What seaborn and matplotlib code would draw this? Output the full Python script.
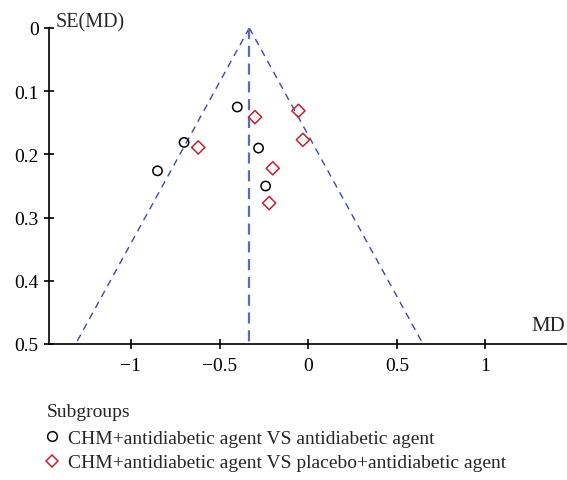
import numpy as np
import pandas as pd
import matplotlib
matplotlib.use("Agg")
import matplotlib.pyplot as plt
import seaborn as sns
from matplotlib.lines import Line2D

# data
g1_label = "CHM+antidiabetic agent VS antidiabetic agent"
g2_label = "CHM+antidiabetic agent VS placebo+antidiabetic agent"
g1_md = [-0.40, -0.70, -0.85, -0.28, -0.24]
g1_se = [0.125, 0.181, 0.226, 0.190, 0.250]
g2_md = [-0.30, -0.62, -0.20, -0.22, -0.055, -0.03]
g2_se = [0.141, 0.189, 0.222, 0.277, 0.131, 0.177]
pooled_md = -0.332
se_max = 0.495
x_ticks = [-1, -0.5, 0, 0.5, 1]
y_ticks = [0, 0.1, 0.2, 0.3, 0.4, 0.5]

df = pd.DataFrame({
    "MD": g1_md + g2_md,
    "SE": g1_se + g2_se,
    "Subgroups": [g1_label] * len(g1_md) + [g2_label] * len(g2_md),
})

sns.set_style("white")
plt.rcParams["font.family"] = ["Liberation Serif", "DejaVu Serif"]

fig = plt.figure(figsize=(5.67, 4.81), dpi=100)
ax = fig.add_axes([49/567, 1-345/481, 1-49/567, (345-29)/481])

# funnel lines
se_line = np.array([0, se_max])
ax.plot(pooled_md - 1.96*se_line, se_line, ls=(0, (5, 4)), color="#3a4aa8", lw=1.0)
ax.plot(pooled_md + 1.96*se_line, se_line, ls=(0, (5, 4)), color="#3a4aa8", lw=1.0)
ax.plot([pooled_md, pooled_md], [0, 0.5], ls=(0, (5, 3)), color="#5a6cb8", lw=1.6)

sns.scatterplot(data=df, x="MD", y="SE", hue="Subgroups", style="Subgroups",
                palette={g1_label: "black", g2_label: "#c8202a"},
                markers={g1_label: "o", g2_label: "D"},
                s=45, ax=ax, legend=False, zorder=5)
# make hollow markers
for coll in ax.collections:
    fc = coll.get_facecolors()
    coll.set_edgecolors(fc)
    coll.set_facecolors("none")
    coll.set_linewidth(1.1)

ax.set_xlim(-1.462, 1.46)
ax.set_ylim(0.5, 0)
ax.set_xticks(x_ticks)
ax.set_xticklabels(["\u22121", "\u22120.5", "0", "0.5", "1"])
ax.set_yticks(y_ticks)
ax.set_yticklabels(["0", "0.1", "0.2", "0.3", "0.4", "0.5"])
ax.set_xlabel("")
ax.set_ylabel("")
for s in ["top", "right"]:
    ax.spines[s].set_visible(False)
for s in ["left", "bottom"]:
    ax.spines[s].set_color("black")
    ax.spines[s].set_linewidth(1.2)
ax.tick_params(axis="both", direction="inout", length=7, width=1.2,
               labelsize=14, colors="black", left=True, bottom=True)
ax.tick_params(axis="x", pad=6)
ax.tick_params(axis="y", pad=4)

ax.text(-1.462 + 0.035, -0.009, "SE(MD)", fontsize=14.5, va="center", ha="left",
        clip_on=False)
ax.text(1.45, 0.486, "MD", fontsize=15, ha="right", va="bottom")

handles = [
    Line2D([], [], ls="none", marker="o", markersize=7, markerfacecolor="none",
           markeredgecolor="black", markeredgewidth=1.1),
    Line2D([], [], ls="none", marker="D", markersize=6.5, markerfacecolor="none",
           markeredgecolor="#c8202a", markeredgewidth=1.1),
]
fig.text(47/567, 1-413/481, "Subgroups", fontsize=14, ha="left", va="center")
leg = fig.legend(handles, [g1_label, g2_label],
                 loc="upper left", bbox_to_anchor=(40/567, 1-426/481),
                 frameon=False, fontsize=14,
                 handlelength=0.8, handletextpad=0.45, labelspacing=0.38,
                 borderpad=0.2, borderaxespad=0.0)

fig.savefig("out.png", dpi=100)
